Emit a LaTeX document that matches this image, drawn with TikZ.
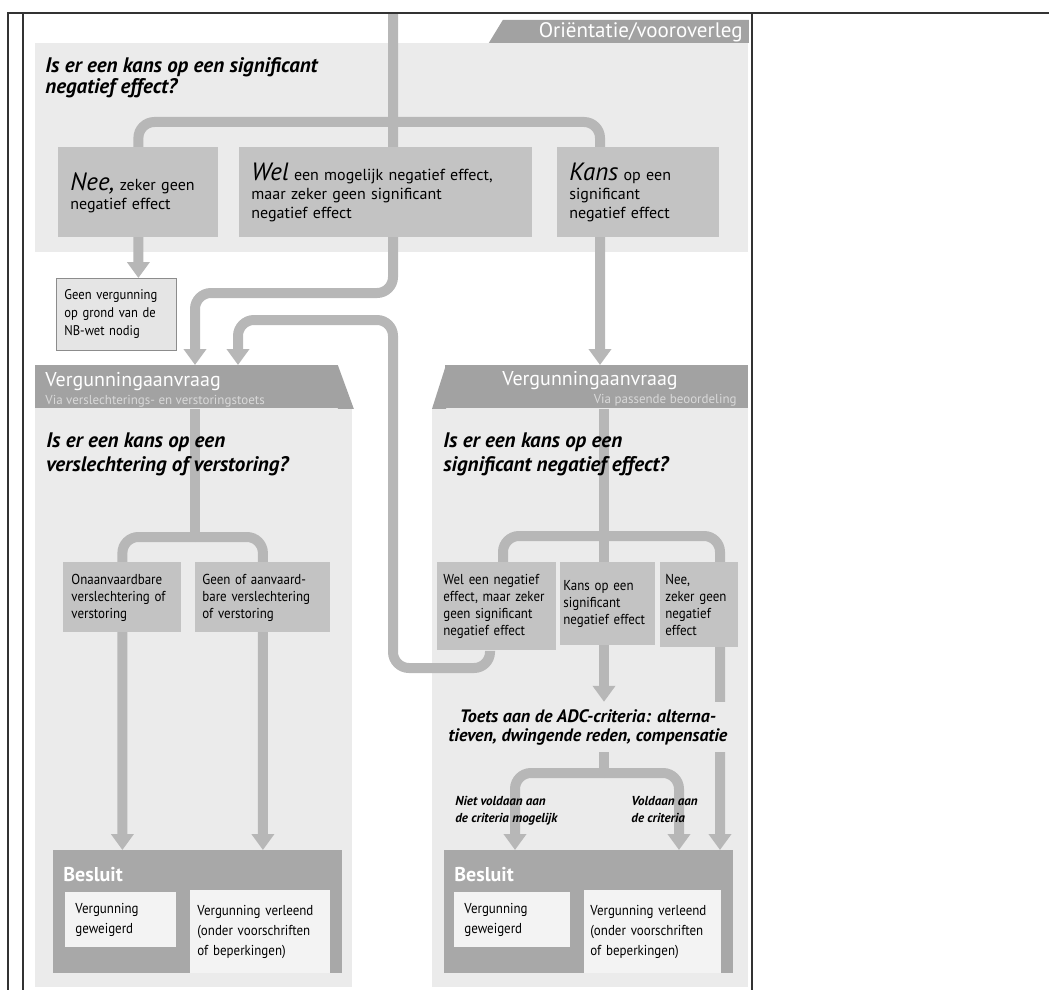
\documentclass[tikz,border=0pt]{standalone}
\usepackage{fontspec}
\setmainfont{PT Sans}
\newfontfamily\narrowsans{PT Sans}[FakeStretch=0.9]
\usetikzlibrary{arrows.meta,calc}

\definecolor{panelgray}{HTML}{EBEBEB}
\definecolor{cellgray}{HTML}{C3C3C3}
\definecolor{headgray}{HTML}{A2A2A2}
\definecolor{flowgray}{HTML}{B7B7B7}
\definecolor{decigray}{HTML}{A8A8A8}
\definecolor{notegray}{HTML}{F3F3F3}

\pgfdeclarelayer{background}
\pgfdeclarelayer{flow}
\pgfsetlayers{background,flow,main}

\begin{document}
\begin{tikzpicture}[
    x=0.5pt, y=-0.5pt,
    panel/.style={fill=panelgray, anchor=north west, inner sep=0pt},
    header/.style={fill=headgray, anchor=north west, inner sep=0pt, minimum width=151.5pt, minimum height=21.5pt},
    cell/.style={fill=cellgray, anchor=north west, align=left, inner ysep=0pt, font=\narrowsans\fontsize{7.2}{8.5}\selectfont},
    bigcell/.style={cell, inner xsep=6pt, minimum height=45pt, font=\fontsize{8}{9.5}\selectfont},
    note/.style={fill=notegray, anchor=north west, align=left, inner ysep=0pt, font=\narrowsans\fontsize{7.2}{10}\selectfont},
    decision/.style={fill=decigray, anchor=north west, inner sep=0pt, minimum width=144.5pt, minimum height=61.5pt},
    question/.style={anchor=north west, align=left, inner sep=0pt, font=\fontsize{10.5}{12}\bfseries\itshape},
    remark/.style={anchor=north west, align=left, inner sep=0pt, font=\fontsize{6.5}{8.5}\bfseries\itshape},
    caption/.style={text=white, inner sep=0pt},
    flow/.style={draw=flowgray, line width=5pt, rounded corners=8pt},
    flowarrow/.style={flow, -{Triangle[length=8pt, width=11pt]}},
    frame/.style={draw=black!80, line width=1pt}
  ]
  \useasboundingbox (0,0) rectangle (1049,990);

  % frame
  \draw[frame] (8,990) -- (8,13) -- (1049,13);
  \draw[frame] (23,13) -- (23,990);
  \draw[frame] (752,13) -- (752,990);

  \begin{pgfonlayer}{background}
    \node[panel, minimum width=356.5pt, minimum height=104.5pt] (orient) at (35,43) {};
    \node[panel, minimum width=158.5pt, minimum height=289.5pt] (panelL) at (35,408) {};
    \node[panel, minimum width=158pt, minimum height=289.5pt] (panelR) at (432,408) {};
  \end{pgfonlayer}

  % orientatie / vooroverleg
  \fill[headgray] (orient.north east) -- ++(0,-23) -- ++(-246,0) -- ++(-14,23) -- cycle;
  \node[caption, anchor=east, font=\fontsize{10.5}{10.5}\selectfont] (tab) at (743,32) {Oriëntatie/vooroverleg};
  \node[question, font=\fontsize{10.5}{10.5}\bfseries\itshape] (q1) at (45,57) {Is er een kans op een significant\\negatief effect?};
  \node[bigcell, minimum width=80pt, text width=68pt] (nee1) at (58,147) {{\fontsize{12.5}{12}\selectfont\itshape Nee,} zeker geen\\negatief effect};
  \node[bigcell, minimum width=146.5pt, text width=134.5pt] (wel1) at (239,147) {{\fontsize{12.5}{12}\selectfont\itshape Wel} een mogelijk negatief effect,\\maar zeker geen significant\\negatief effect};
  \node[bigcell, minimum width=81pt, text width=69pt] (kans1) at (557,147) {{\fontsize{12.5}{12}\selectfont\itshape Kans} op een\\significant\\negatief effect};
  \node[note, draw=black!45, fill=black!10, minimum width=60pt, minimum height=36pt, text width=52pt, inner xsep=4pt, font=\narrowsans\fontsize{7}{9}\selectfont] (geen) at (56,278) {Geen vergunning\\op grond van de\\NB-wet nodig};

  % verslechterings- en verstoringstoets
  \node[header] (hdrL) at (35,365) {};
  \fill[headgray] ($(hdrL.north east)+(-1,0)$) -- ($(hdrL.south east)+(15,0)$) -- ($(hdrL.south east)+(-1,0)$) -- cycle;
  \node[caption, anchor=west, font=\fontsize{10}{10}\selectfont] (hdrLt) at (45,382) {Vergunningaanvraag};
  \node[caption, anchor=west, text=white!85!black, font=\fontsize{6.5}{6.5}\selectfont] (hdrLs) at (45,401) {Via verslechterings- en verstoringstoets};
  \node[question] (qL) at (46,432) {Is er een kans op een\\verslechtering of verstoring?};
  \node[cell, minimum width=59pt, minimum height=35pt, text width=51pt, inner xsep=4pt] (onaan) at (63,562) {Onaanvaardbare\\verslechtering of\\verstoring};
  \node[cell, minimum width=67.5pt, minimum height=35pt, text width=60.5pt, inner xsep=3.5pt] (aanv) at (195,562) {Geen of aanvaard-\\bare verslechtering\\of verstoring};
  \node[decision] (besL) at (53,850) {};
  \node[caption, anchor=west, font=\fontsize{10}{10}\bfseries] (besLt) at (63,875) {Besluit};
  \node[note, minimum width=55.5pt, minimum height=27.5pt, text width=45.5pt, inner xsep=5pt] (weigL) at (65,892) {Vergunning\\geweigerd};
  \node[note, minimum width=70pt, minimum height=41.5pt, text width=63pt, inner xsep=3.5pt] (verlL) at (190,890) {Vergunning verleend\\(onder voorschriften\\of beperkingen)};

  % passende beoordeling
  \node[header] (hdrR) at (445,365) {};
  \fill[headgray] ($(hdrR.north west)+(1,0)$) -- ($(hdrR.south west)+(1,0)$) -- ($(hdrR.south west)+(-13,0)$) -- cycle;
  \node[caption, font=\fontsize{10}{10}\selectfont] (hdrRt) at (590,381) {Vergunningaanvraag};
  \node[caption, anchor=east, text=white!85!black, font=\fontsize{6.5}{6.5}\selectfont] (hdrRs) at (737,400) {Via passende beoordeling};
  \node[question] (qR) at (443,432) {Is er een kans op een\\significant negatief effect?};
  \node[cell, minimum width=59.5pt, minimum height=44pt, text width=53.5pt, inner xsep=3pt] (welR) at (437,562) {Wel een negatief\\effect, maar zeker\\geen significant\\negatief effect};
  \node[cell, minimum width=47.5pt, minimum height=41.5pt, text width=44.5pt, inner xsep=1.5pt] (kansR) at (560,562) {Kans op een\\significant\\negatief effect};
  \node[cell, minimum width=39pt, minimum height=42.5pt, text width=34pt, inner xsep=2.5pt] (neeR) at (660,562) {Nee,\\zeker geen\\negatief\\effect};
  \node[fill=panelgray, align=center, inner xsep=2pt, inner ysep=3.5pt, font=\fontsize{9}{9.5}\bfseries\itshape] (toets) at (588,727) {Toets aan de ADC-criteria: alterna-\\tieven, dwingende reden, compensatie};
  \node[remark] (niet) at (455,796) {Niet voldaan aan\\de criteria mogelijk};
  \node[remark] (vold) at (631,796) {Voldaan aan\\de criteria};
  \node[decision] (besR) at (444,850) {};
  \node[caption, anchor=west, font=\fontsize{10}{10}\bfseries] (besRt) at (454,875) {Besluit};
  \node[note, minimum width=58pt, minimum height=27.5pt, text width=48pt, inner xsep=5pt] (weigR) at (454,892) {Vergunning\\geweigerd};
  \node[note, minimum width=68.5pt, minimum height=41.5pt, text width=62.5pt, inner xsep=3pt] (verlR) at (584,890) {Vergunning verleend\\(onder voorschriften\\of beperkingen)};

  \begin{pgfonlayer}{flow}
    \coordinate (entry) at (393,13);
    \coordinate (fork1) at (393,122);
    \coordinate (kansdrop) at (600,122);
    \coordinate (bendA) at (195,293);
    \coordinate (loopR) at (490,668);
    \coordinate (loopL) at (393,668);
    \coordinate (bendB) at (238,320);
    \draw[flowarrow] (fork1) -| (geen.north -| nee1.north);
    \draw[flowarrow] (fork1) -| (hdrR.north -| kansdrop);
    \draw[flowarrow] (entry) |- (bendA) -- (hdrL.north -| bendA);
    \draw[flowarrow] (welR.south -| loopR) -- (loopR) -- (loopL) |- (bendB) -- (hdrL.north -| bendB);
    % left column
    \coordinate (forkL) at (195,537);
    \draw[flow] (hdrL.south -| forkL) -- (forkL);
    \draw[flowarrow] (forkL) -| (besL.north -| onaan.north);
    \draw[flowarrow] (forkL) -| (besL.north -| aanv.north);
    % right column
    \coordinate (forkR) at (604,536);
    \coordinate (forkRl) at (503,536);
    \coordinate (forkRr) at (720,536);
    \draw[flowarrow] (hdrR.south -| forkR) -- (toets.north -| forkR);
    \draw[flow] (forkR) -| (welR.north -| forkRl);
    \draw[flowarrow] (forkR) -| (besR.north -| forkRr);
    \coordinate (fork2) at (604,773);
    \coordinate (drop2l) at (515,773);
    \coordinate (drop2r) at (679,773);
    \draw[flow] (toets.south -| fork2) -- (fork2);
    \draw[flowarrow] (fork2) -| (besR.north -| drop2l);
    \draw[flowarrow] (fork2) -| (besR.north -| drop2r);
  \end{pgfonlayer}
\end{tikzpicture}
\end{document}
